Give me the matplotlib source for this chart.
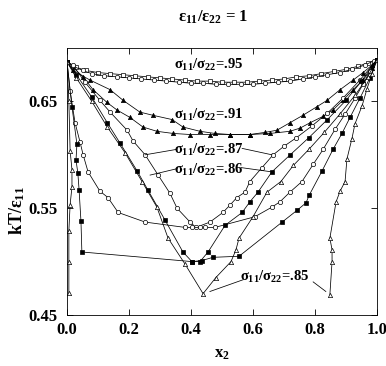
import matplotlib
matplotlib.use("Agg")
import matplotlib.pyplot as plt

plt.rcParams['font.family'] = ['Liberation Serif', 'DejaVu Serif']
plt.rcParams['font.weight'] = 'bold'
plt.rcParams['mathtext.fontset'] = 'custom'
plt.rcParams['mathtext.rm'] = 'Liberation Serif:bold'
plt.rcParams['mathtext.it'] = 'Liberation Serif:bold'
plt.rcParams['mathtext.bf'] = 'Liberation Serif:bold'

# sigma11/sigma22 = .95 (two nearly coincident branches)
x95a = [0.0, 0.03, 0.06, 0.10, 0.14, 0.18, 0.22, 0.26, 0.30, 0.34, 0.38, 0.42, 0.46, 0.50, 0.54, 0.58, 0.62, 0.66, 0.70, 0.74, 0.78, 0.82, 0.86, 0.90, 0.94, 0.97, 1.0]
y95a = [0.687, 0.682, 0.679, 0.677, 0.676, 0.675, 0.674, 0.673, 0.672, 0.671, 0.670, 0.669, 0.669, 0.668, 0.668, 0.668, 0.669, 0.670, 0.671, 0.673, 0.674, 0.676, 0.678, 0.680, 0.683, 0.686, 0.689]
x95b = [0.0, 0.02, 0.05, 0.08, 0.12, 0.16, 0.20, 0.24, 0.28, 0.32, 0.36, 0.40, 0.44, 0.48, 0.52, 0.56, 0.60, 0.64, 0.68, 0.72, 0.76, 0.80, 0.84, 0.88, 0.92, 0.96, 0.99, 1.0]
y95b = [0.687, 0.683, 0.679, 0.676, 0.674, 0.673, 0.672, 0.671, 0.670, 0.669, 0.668, 0.667, 0.667, 0.666, 0.666, 0.666, 0.666, 0.667, 0.668, 0.669, 0.671, 0.673, 0.675, 0.677, 0.680, 0.684, 0.688, 0.689]

# sigma11/sigma22 = .91 (filled triangles)
x91a = [0.0, 0.019, 0.074, 0.139, 0.181, 0.235, 0.277, 0.339, 0.374, 0.429, 0.477, 0.526, 0.590, 0.639, 0.677, 0.719, 0.761, 0.806, 0.839, 0.881, 0.923, 0.955, 0.984, 1.0]
y91a = [0.687, 0.679, 0.670, 0.661, 0.651, 0.640, 0.637, 0.633, 0.626, 0.622, 0.620, 0.619, 0.619, 0.621, 0.623, 0.630, 0.637, 0.645, 0.651, 0.661, 0.670, 0.677, 0.684, 0.689]
x91b = [0.0, 0.052, 0.084, 0.129, 0.161, 0.203, 0.245, 0.290, 0.342, 0.397, 0.461, 0.526, 0.590, 0.655, 0.719, 0.752, 0.784, 0.826, 0.858, 0.890, 0.923, 0.955, 0.984, 1.0]
y91b = [0.687, 0.673, 0.661, 0.649, 0.642, 0.635, 0.626, 0.622, 0.620, 0.619, 0.619, 0.619, 0.619, 0.620, 0.622, 0.625, 0.630, 0.636, 0.642, 0.651, 0.661, 0.670, 0.681, 0.689]

# sigma11/sigma22 = .87 (open circles)
x87_liq = [0.0, 0.019, 0.058, 0.106, 0.139, 0.194, 0.213, 0.252, 0.294, 0.332, 0.355, 0.397, 0.416, 0.461, 0.503, 0.526, 0.548, 0.574, 0.590, 0.629, 0.665, 0.700, 0.740, 0.790, 0.840, 0.890, 0.945, 1.0]
y87_liq = [0.687, 0.684, 0.668, 0.651, 0.640, 0.623, 0.613, 0.600, 0.581, 0.564, 0.550, 0.537, 0.532, 0.537, 0.546, 0.553, 0.560, 0.565, 0.575, 0.588, 0.600, 0.608, 0.616, 0.627, 0.639, 0.653, 0.670, 0.689]
x87_sol = [0.0, 0.010, 0.026, 0.042, 0.052, 0.068, 0.106, 0.132, 0.165, 0.252, 0.381, 0.403, 0.429, 0.445, 0.477, 0.606, 0.661, 0.687, 0.719, 0.758, 0.794, 0.826, 0.865, 0.897, 0.929, 0.955, 0.977, 1.0]
y87_sol = [0.687, 0.660, 0.630, 0.612, 0.600, 0.584, 0.566, 0.560, 0.546, 0.537, 0.532, 0.532, 0.532, 0.532, 0.532, 0.542, 0.551, 0.556, 0.565, 0.575, 0.591, 0.605, 0.624, 0.638, 0.653, 0.666, 0.678, 0.689]

# sigma11/sigma22 = .86 (filled squares)
x86_liq = [0.0, 0.03, 0.08, 0.13, 0.171, 0.226, 0.261, 0.316, 0.374, 0.403, 0.429, 0.455, 0.510, 0.565, 0.590, 0.616, 0.661, 0.720, 0.780, 0.840, 0.900, 0.950, 1.0]
y86_liq = [0.687, 0.675, 0.654, 0.630, 0.611, 0.585, 0.567, 0.539, 0.509, 0.500, 0.500, 0.509, 0.534, 0.546, 0.556, 0.565, 0.584, 0.600, 0.616, 0.633, 0.651, 0.669, 0.689]
x86_sol = [0.0, 0.016, 0.032, 0.029, 0.035, 0.039, 0.045, 0.048, 0.403, 0.435, 0.471, 0.555, 0.694, 0.742, 0.771, 0.781, 0.823, 0.858, 0.887, 0.913, 0.945, 0.977, 1.0]
y86_sol = [0.687, 0.645, 0.610, 0.595, 0.583, 0.567, 0.538, 0.509, 0.500, 0.501, 0.504, 0.505, 0.537, 0.548, 0.555, 0.562, 0.585, 0.605, 0.620, 0.635, 0.653, 0.672, 0.689]

# sigma11/sigma22 = .85 (open triangles)
x85_liq = [0.0, 0.03, 0.08, 0.13, 0.187, 0.242, 0.290, 0.326, 0.380, 0.439, 0.480, 0.529, 0.545, 0.555, 0.600, 0.645, 0.690, 0.730, 0.780, 0.830, 0.880, 0.930, 0.970, 1.0]
y85_liq = [0.687, 0.672, 0.650, 0.626, 0.602, 0.575, 0.551, 0.522, 0.498, 0.470, 0.485, 0.500, 0.511, 0.522, 0.542, 0.565, 0.575, 0.590, 0.605, 0.621, 0.638, 0.656, 0.673, 0.689]
x85_sol = [0.0, 0.006, 0.010, 0.016, 0.016, 0.010, 0.006, 0.006, 0.006]
y85_sol = [0.687, 0.650, 0.604, 0.586, 0.570, 0.553, 0.529, 0.500, 0.471]
x85_sol2 = [0.848, 0.855, 0.855, 0.848, 0.868, 0.881, 0.897, 0.903, 0.919, 0.929, 0.952, 0.968, 0.984, 1.0]
y85_sol2 = [0.469, 0.500, 0.511, 0.522, 0.556, 0.566, 0.575, 0.596, 0.615, 0.629, 0.646, 0.662, 0.676, 0.689]

fig = plt.figure(figsize=(3.86, 3.66), dpi=100)
ax = fig.add_axes([67/386, 1-315/366, 310/386, 267/366])

lw = 0.55
ms = 3.1
mw = 0.5
ax.plot(x95a, y95a, '-', color='k', lw=lw, marker='s', ms=ms, mfc='white', mec='k', mew=mw)
ax.plot(x95b, y95b, '-', color='k', lw=lw, marker='o', ms=ms, mfc='white', mec='k', mew=mw)
ax.plot(x91a, y91a, '-', color='k', lw=lw, marker='^', ms=ms, mfc='k', mec='k', mew=mw)
ax.plot(x91b, y91b, '-', color='k', lw=lw, marker='^', ms=ms, mfc='k', mec='k', mew=mw)
ax.plot(x87_liq, y87_liq, '-', color='k', lw=lw, marker='o', ms=ms, mfc='white', mec='k', mew=mw)
ax.plot(x87_sol, y87_sol, '-', color='k', lw=lw, marker='o', ms=ms, mfc='white', mec='k', mew=mw)
ax.plot(x86_liq, y86_liq, '-', color='k', lw=lw, marker='s', ms=ms-0.4, mfc='k', mec='k', mew=mw)
ax.plot(x86_sol, y86_sol, '-', color='k', lw=lw, marker='s', ms=ms-0.4, mfc='k', mec='k', mew=mw)
ax.plot(x85_liq, y85_liq, '-', color='k', lw=lw, marker='^', ms=ms, mfc='white', mec='k', mew=mw)
ax.plot(x85_sol, y85_sol, '-', color='k', lw=lw, marker='^', ms=ms, mfc='white', mec='k', mew=mw)
ax.plot(x85_sol2, y85_sol2, '-', color='k', lw=lw, marker='^', ms=ms, mfc='white', mec='k', mew=mw)

lab = r'$\sigma_{11}/\sigma_{22}$'
fs = 10.5
ax.text(0.458, 0.684, lab + '=.95', ha='center', va='center', fontsize=fs, fontweight='bold')
ax.text(0.458, 0.637, lab + '=.91', ha='center', va='center', fontsize=fs, fontweight='bold')
ax.text(0.458, 0.605, lab + '=.87', ha='center', va='center', fontsize=fs, fontweight='bold')
ax.text(0.458, 0.586, lab + '=.86', ha='center', va='center', fontsize=fs, fontweight='bold')
ax.text(0.671, 0.486, lab + '=.85', ha='center', va='center', fontsize=fs, fontweight='bold')

lk = dict(color='k', lw=0.55)
ax.plot([0.352, 0.252], [0.605, 0.600], **lk)
ax.plot([0.565, 0.661], [0.606, 0.600], **lk)
ax.plot([0.355, 0.268], [0.587, 0.581], **lk)
ax.plot([0.562, 0.661], [0.588, 0.584], **lk)
ax.plot([0.568, 0.461], [0.483, 0.472], **lk)
ax.plot([0.794, 0.835], [0.481, 0.472], **lk)

ax.set_xlim(0, 1)
ax.set_ylim(0.45, 0.70)
ax.set_xticks([0.0, 0.2, 0.4, 0.6, 0.8, 1.0])
ax.set_xticklabels(['0.0', '0.2', '0.4', '0.6', '0.8', '1.0'])
ax.set_yticks([0.45, 0.55, 0.65])
ax.set_yticklabels(['0.45', '0.55', '0.65'])
ax.tick_params(direction='in', top=True, right=True, length=4, width=0.6, labelsize=12)
ax.tick_params(axis='x', pad=5)
ax.tick_params(axis='y', pad=7)
for t in ax.get_xticklabels() + ax.get_yticklabels():
    t.set_fontweight('bold')
for s in ax.spines.values():
    s.set_linewidth(0.6)

ax.set_xlabel(r'x$_2$', fontsize=12, fontweight='bold', labelpad=6)
ax.set_ylabel(r'kT/$\varepsilon_{11}$', fontsize=13, fontweight='bold')
ax.yaxis.set_label_coords(-0.128, 0.39)
fig.text(213/386, 1-17/366, r'$\varepsilon_{11}/\varepsilon_{22}$ = 1', ha='center', va='center', fontsize=12, fontweight='bold')

fig.savefig('out.png', dpi=100)
